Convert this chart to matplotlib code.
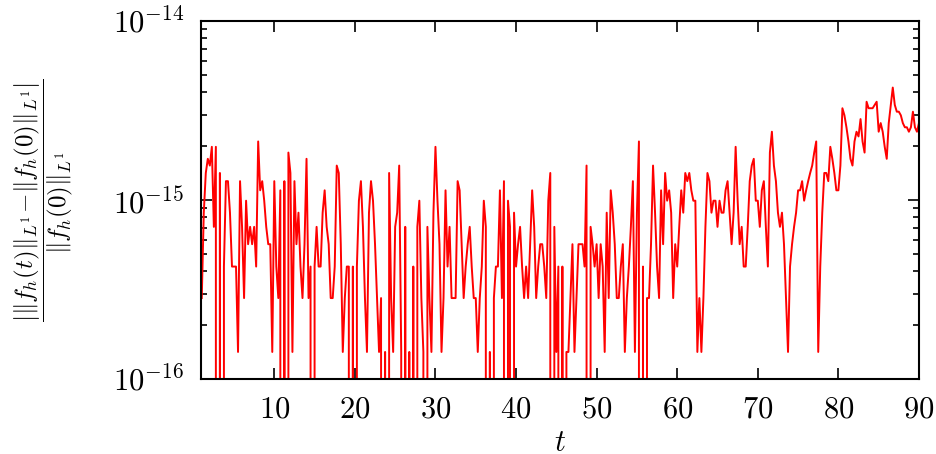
import numpy as np
import matplotlib
matplotlib.use("Agg")
import matplotlib.pyplot as plt

plt.rcParams['font.family'] = 'serif'
plt.rcParams['font.serif'] = ['cmr10', 'DejaVu Serif']
plt.rcParams['mathtext.fontset'] = 'cm'
plt.rcParams['axes.formatter.use_mathtext'] = True
plt.rcParams['axes.unicode_minus'] = False

unit = 1.416e-16
k_01_13 = [2, 6, 10, 12, 11, 14, 5, 14, 0, 10, 0, 3, 9, 9, 6, 3, 3, 3, 1, 9,
           5, 2, 7, 4, 5, 4, 5, 3, 15, 8, 9, 7, 5, 4, 4, 1, 9, 3, 2, 8,
           0, 9, 0, 13, 10, 1, 9, 4, 6, 3]
k_13_26 = [2, 4, 12, 2, 3, 0, 3, 5, 3, 3, 6, 8, 5, 4, 2, 2, 3, 11, 10, 4,
           1, 2, 3, 3, 0, 3, 0, 3, 7, 9, 5, 2, 1, 6, 9, 7, 4, 2, 1, 2,
           0, 1, 0, 10, 2, 1, 5, 6, 11, 1, 0, 5]
k_26_39 = [0, 1, 0, 3, 0, 5, 7, 2, 1, 0, 5, 2, 1, 6, 14, 7, 4, 1, 2, 8,
           3, 5, 2, 2, 2, 9, 8, 4, 2, 3, 4, 5, 3, 2, 2, 1, 2, 3, 7, 5,
           0, 1, 0, 2, 3, 3, 8, 2, 9, 0, 7]
k_39_52 = [5, 0, 6, 3, 4, 5, 3, 2, 3, 2, 4, 8, 5, 2, 3, 4, 4, 3, 2, 7,
           10, 0, 5, 1, 3, 0, 3, 0, 1, 1, 2, 4, 1, 2, 4, 4, 4, 3, 11, 0,
           5, 4, 3, 4, 2, 4, 3, 1, 6, 2, 8]
k_52_64 = [6, 4, 2, 2, 3, 4, 1, 2, 3, 5, 9, 1, 6, 15, 0, 3, 0, 2, 2, 4,
           11, 6, 3, 2, 8, 4, 10, 7, 8, 6, 2, 4, 3, 5, 8, 6, 10, 9, 10, 8,
           7, 7, 1, 2, 1, 2, 5, 10, 9, 6, 7]
k_64_77 = [7, 5, 7, 6, 6, 8, 9, 6, 4, 6, 14, 7, 4, 5, 3, 3, 5, 9, 11, 12,
           7, 7, 5, 8, 9, 5, 3, 13, 17, 11, 9, 6, 5, 6, 4, 2, 1, 3, 4, 5,
           6, 8, 8, 9, 7, 8, 9, 10, 11, 13, 15, 1]
k_77_90 = [3, 6, 10, 10, 9, 14, 12, 10, 8, 8, 11, 23, 21, 18, 15, 12, 11, 15, 17, 16,
           20, 15, 13, 25, 23, 23, 23, 24, 25, 17, 19, 17, 14, 12, 19, 24, 30, 24, 22, 22,
           21, 19, 18, 18, 17, 18, 22, 18, 17, 19]

k = np.array(k_01_13 + k_13_26 + k_26_39 + k_39_52 + k_52_64 + k_64_77 + k_77_90, dtype=float)
t = np.arange(len(k)) * 0.25 + 1.0
err = k * unit

fig = plt.figure(figsize=(9.36, 4.54), dpi=100)
ax = fig.add_axes([0.2147, 0.1652, 0.7671, 0.7885])
ax.plot(t, err, color='red', lw=1.4)
ax.set_yscale('log')
ax.set_ylim(1e-16, 1e-14)
ax.set_xlim(0.9, 90)
ax.set_xticks([10, 20, 30, 40, 50, 60, 70, 80, 90])

for s in ax.spines.values():
    s.set_linewidth(1.5)
ax.tick_params(which='both', direction='in', top=True, right=True, width=1.2)
ax.tick_params(which='major', length=8)
ax.tick_params(which='minor', length=4)
ax.tick_params(axis='x', labelsize=22, pad=12)
ax.tick_params(axis='y', labelsize=22, pad=12)
ax.xaxis.set_minor_locator(plt.NullLocator())

ax.set_xlabel('$t$', fontsize=22)
ax.xaxis.set_label_coords(0.5, -0.14)
ax.set_ylabel(r'$\dfrac{\left|\|f_h(t)\|_{L^1}\!-\!\|f_h(0)\|_{L^1}\right|}{\|f_h(0)\|_{L^1}}$',
              fontsize=18)
ax.yaxis.set_label_coords(-0.175, 0.5)

fig.savefig('out.png', dpi=100)
